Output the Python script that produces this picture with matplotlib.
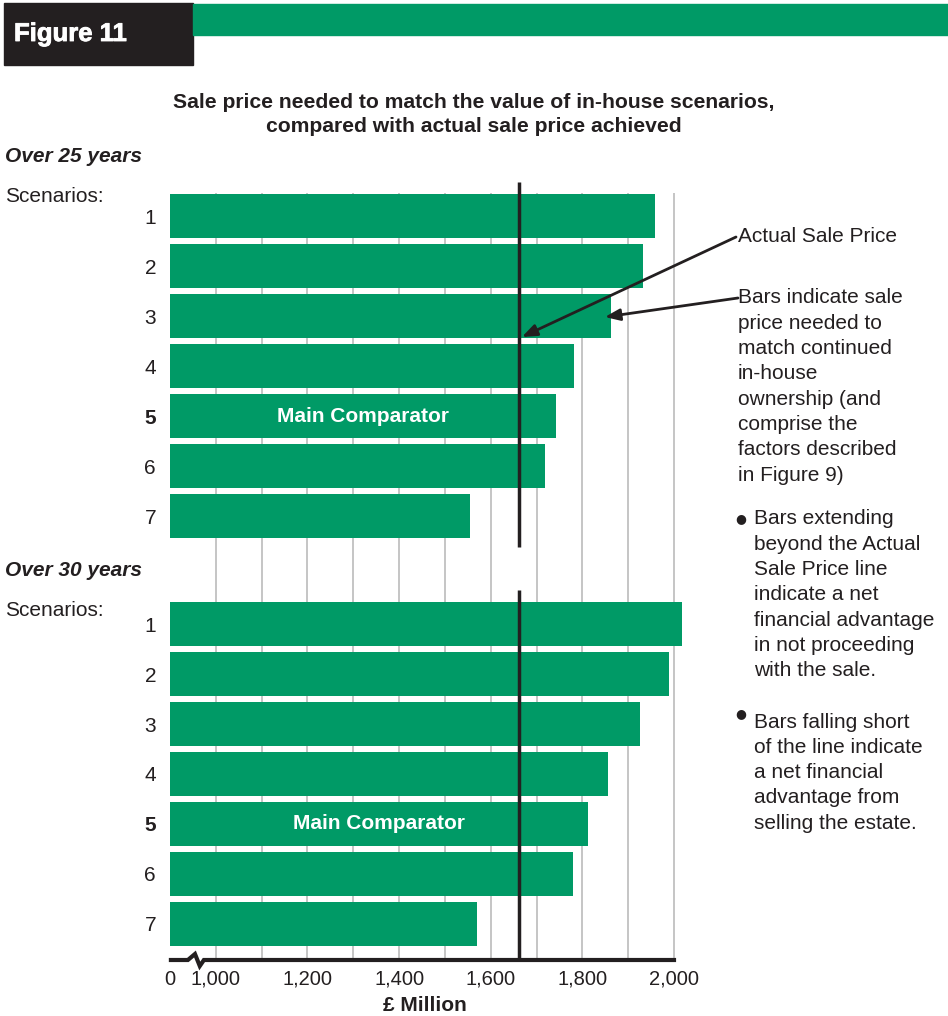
import matplotlib.pyplot as plt
import matplotlib.patches as mpatches
import matplotlib.patheffects as pe
import numpy as np

plt.rcParams['font.family'] = ['Liberation Sans', 'DejaVu Sans']

green = '#009a66'
ink = '#231f20'

scenarios = ['1', '2', '3', '4', '5', '6', '7']
over25 = [1958, 1932, 1862, 1781, 1742, 1718, 1555]
over30 = [2018, 1988, 1925, 1856, 1812, 1779, 1569]
sale_price = 1662
tick_vals = [0, 1000, 1200, 1400, 1600, 1800, 2000]
tick_labels = ['0', '1,000', '1,200', '1,400', '1,600', '1,800', '2,000']
grid_vals = list(range(1000, 2001, 100))

W, H = 948, 1016


def fx(x):
    return x / W


def fy(y):
    return 1 - y / H


# broken axis: 0..1000 squeezed into one grid step
def fwd(v):
    v = np.asarray(v, dtype=float)
    return np.where(v < 1000, v * 0.1, v - 900)


def inv(u):
    u = np.asarray(u, dtype=float)
    return np.where(u < 100, u * 10, u + 900)


fig = plt.figure(figsize=(W / 100, H / 100), dpi=100)

# header
fig.patches.append(mpatches.Rectangle((fx(4), fy(65)), fx(189), 62 / H,
                                      transform=fig.transFigure, color=ink))
fig.patches.append(mpatches.Rectangle((fx(193), fy(35)), fx(755), 31 / H,
                                      transform=fig.transFigure, color=green))
fig.text(fx(14), fy(34), 'Figure 11', color='white', fontsize=18.5,
         fontweight='bold', va='center', ha='left',
         path_effects=[pe.withStroke(linewidth=0.6, foreground='white')])

fig.text(fx(474), fy(102), 'Sale price needed to match the value of in-house scenarios,',
         ha='center', va='center', fontsize=15.2, fontweight='bold', color=ink)
fig.text(fx(474), fy(126), 'compared with actual sale price achieved',
         ha='center', va='center', fontsize=15.2, fontweight='bold', color=ink)

umax = 1140
ax = fig.add_axes([fx(170), fy(960), 504 * umax / 1100 / W, 780 / H])
ax.set_xscale('function', functions=(fwd, inv))
ax.set_xlim(0, float(inv(umax)))
ax.set_ylim(14.88, -0.72)

gap = 8.16
y25 = np.arange(7)
y30 = np.arange(7) + gap

ax.vlines(grid_vals, -0.46, 14.88, color='#bbbbbb', lw=1.2, zorder=1)
ax.barh(y25, over25, height=0.88, color=green, zorder=2)
ax.barh(y30, over30, height=0.88, color=green, zorder=2)

ax.vlines(sale_price, -0.68, 6.62, color=ink, lw=2.5, zorder=3)
ax.vlines(sale_price, 7.48, 14.84, color=ink, lw=2.5, zorder=3)

for ys, vals in ((y25, over25), (y30, over30)):
    mid = inv(fwd(vals[4]) / 2)
    ax.text(float(mid), ys[4], 'Main Comparator', color='white', fontsize=15,
            fontweight='bold', ha='center', va='center', zorder=4)

ax.set_yticks(list(y25) + list(y30))
ax.set_yticklabels(scenarios + scenarios)
ax.tick_params(axis='y', length=0, pad=10, labelsize=15, labelcolor=ink)
for i, lab in enumerate(ax.get_yticklabels()):
    if i % 7 == 4:
        lab.set_fontweight('bold')

ax.set_xticks(tick_vals)
ax.set_xticklabels(tick_labels)
ax.xaxis.set_minor_locator(plt.NullLocator())
ax.tick_params(axis='x', length=0, pad=7, labelsize=14.5, labelcolor=ink)
ax.set_xlabel('£ Million', fontsize=15, fontweight='bold', color=ink, labelpad=4)
ax.xaxis.set_label_coords((425 - 170) / (504 * umax / 1100), -0.046)

for s in ax.spines.values():
    s.set_visible(False)

# axis line with break mark
bx = [2, 39, 54.5, 65, 74, 1100]
by = [14.88, 14.88, 14.76, 15.0, 14.88, 14.88]
ax.plot(inv(np.array(bx)), by, color=ink, lw=3, clip_on=False, zorder=5,
        solid_joinstyle='miter')

# left labels
fig.text(fx(5), fy(157), 'Over 25 years', fontsize=15, fontweight='bold',
         style='italic', va='center', color=ink)
fig.text(fx(5), fy(196), 'Scenarios:', fontsize=15, va='center', color=ink)
fig.text(fx(5), fy(571), 'Over 30 years', fontsize=15, fontweight='bold',
         style='italic', va='center', color=ink)
fig.text(fx(5), fy(611), 'Scenarios:', fontsize=15, va='center', color=ink)

# annotations
arrow = dict(arrowstyle='-|>,head_length=0.9,head_width=0.35', color=ink, lw=2,
             shrinkA=0, shrinkB=0)
ax.annotate('', xy=(sale_price + 6, 2.42), xytext=(fx(736), fy(237)),
            textcoords='figure fraction', arrowprops=arrow, zorder=6)
ax.annotate('', xy=(1849, 2.02), xytext=(fx(738), fy(298)),
            textcoords='figure fraction', arrowprops=arrow, zorder=6)
fig.text(fx(738), fy(236), 'Actual Sale Price', fontsize=15, va='center', color=ink)

lines1 = ['Bars indicate sale', 'price needed to', 'match continued', 'in-house',
          'ownership (and', 'comprise the', 'factors described', 'in Figure 9)']
lines2 = ['Bars extending', 'beyond the Actual', 'Sale Price line', 'indicate a net',
          'financial advantage', 'in not proceeding', 'with the sale.']
lines3 = ['Bars falling short', 'of the line indicate', 'a net financial',
          'advantage from', 'selling the estate.']
step = 25.3
for i, t in enumerate(lines1):
    fig.text(fx(738), fy(298 + i * step), t, fontsize=15, va='center', color=ink)
for i, t in enumerate(lines2):
    fig.text(fx(754), fy(519 + i * step), t, fontsize=15, va='center', color=ink)
for i, t in enumerate(lines3):
    fig.text(fx(754), fy(722 + i * step), t, fontsize=15, va='center', color=ink)
fig.text(fx(741), fy(519), '●', fontsize=9, va='center', ha='center', color=ink,
         family='DejaVu Sans')
fig.text(fx(741), fy(714), '●', fontsize=9, va='center', ha='center', color=ink,
         family='DejaVu Sans')

fig.savefig('out.png', dpi=100)
